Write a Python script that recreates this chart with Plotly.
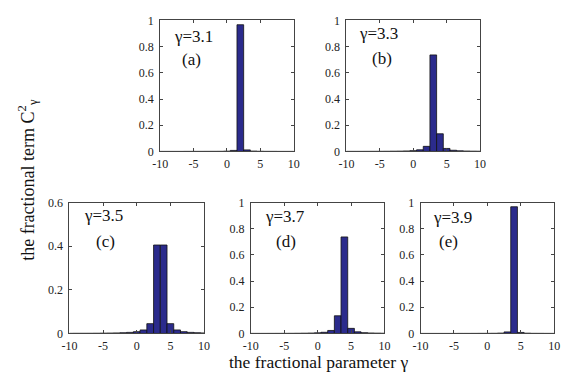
import plotly.graph_objects as go

# integer positions of the terms
n_vals = list(range(-10, 11))

# values (fractional term C^2 for each integer n)
c_g31 = [0.0002, 0.0002, 0.0003, 0.0003, 0.0004, 0.0004, 0.0005, 0.0006, 0.0008, 0.0010, 0.0022,
         0.0080, 0.9675, 0.0120, 0.0027, 0.0012, 0.0006, 0.0004, 0.0003, 0.0002, 0.0002]
c_g33 = [0.0004, 0.0004, 0.0005, 0.0006, 0.0008, 0.0010, 0.0012, 0.0017, 0.0024, 0.0036, 0.0061,
         0.0125, 0.0390, 0.7370, 0.1350, 0.0230, 0.0091, 0.0049, 0.0030, 0.0020, 0.0015]
c_g35 = [0.0006, 0.0007, 0.0008, 0.0009, 0.0011, 0.0014, 0.0018, 0.0024, 0.0034, 0.0050, 0.0083,
         0.0162, 0.0450, 0.4053, 0.4053, 0.0450, 0.0162, 0.0083, 0.0050, 0.0034, 0.0024]
c_g37 = [0.0004, 0.0004, 0.0005, 0.0006, 0.0007, 0.0009, 0.0011, 0.0015, 0.0020, 0.0030, 0.0049,
         0.0091, 0.0230, 0.1350, 0.7370, 0.0390, 0.0125, 0.0061, 0.0036, 0.0024, 0.0017]
c_g39 = [0.0002, 0.0002, 0.0002, 0.0003, 0.0003, 0.0003, 0.0004, 0.0005, 0.0006, 0.0008, 0.0010,
         0.0012, 0.0027, 0.0120, 0.9675, 0.0080, 0.0022, 0.0010, 0.0008, 0.0006, 0.0005]

gamma_labels = ["γ=3.1", "γ=3.3", "γ=3.5", "γ=3.7", "γ=3.9"]
panel_labels = ["(a)", "(b)", "(c)", "(d)", "(e)"]
series = [c_g31, c_g33, c_g35, c_g37, c_g39]
y_max = [1, 1, 0.6, 1, 1]

x_ticks = [-10, -5, 0, 5, 10]
x_ticktext = ["-10", "-5", "0", "5", "10"]
y_ticks_full = [0, 0.2, 0.4, 0.6, 0.8, 1]
y_ticktext_full = ["0", "0.2", "0.4", "0.6", "0.8", "1"]

W, H = 567, 379

# pixel boxes of panels: (x0, x1, y_top, y_bottom)
boxes = [(156, 293, 14, 150), (347, 484, 14, 150),
         (63, 201, 203, 339), (249, 386, 203, 339), (423, 560, 203, 339)]
gamma_pos = [(190, 31), (380, 28), (98, 217), (284, 218), (456, 219)]
panel_pos = [(188, 55), (383, 53), (100, 243), (285, 243), (452, 243)]


def fx(px):
    return px / W


def fy(py):
    return 1 - py / H


FONT = "Liberation Serif"
BAR_COLOR = "#2b2b8c"
AX_COLOR = "#444444"

fig = go.Figure()
layout = dict(width=W, height=H, margin=dict(l=0, r=0, t=0, b=0),
              paper_bgcolor="white", plot_bgcolor="white", showlegend=False,
              bargap=0, font=dict(family=FONT, size=12, color="#222"))
annotations = []

for i, vals in enumerate(series):
    k = "" if i == 0 else str(i + 1)
    fig.add_trace(go.Bar(x=n_vals, y=vals, width=1.0,
                         marker=dict(color=BAR_COLOR, line=dict(color="#111", width=0.8)),
                         xaxis="x" + k, yaxis="y" + k, hoverinfo="skip"))
    x0, x1, yt, yb = boxes[i]
    ym = y_max[i]
    yt_vals = [v for v in y_ticks_full if v <= ym + 1e-9]
    yt_text = y_ticktext_full[:len(yt_vals)]
    layout["xaxis" + k] = dict(domain=[fx(x0), fx(x1)], range=[-10, 10], anchor="y" + k,
                               tickvals=x_ticks, ticktext=x_ticktext, ticks="inside", ticklen=3,
                               tickcolor=AX_COLOR, showline=True, linecolor=AX_COLOR, linewidth=1,
                               mirror="allticks", showgrid=False, zeroline=False,
                               ticklabelstandoff=1,
                               tickfont=dict(family=FONT, size=12, color="#222"))
    layout["yaxis" + k] = dict(domain=[fy(yb), fy(yt)], range=[0, ym], anchor="x" + k,
                               tickvals=yt_vals, ticktext=yt_text, ticks="inside", ticklen=3,
                               tickcolor=AX_COLOR, showline=True, linecolor=AX_COLOR, linewidth=1,
                               mirror="allticks", showgrid=False, zeroline=False,
                               ticklabelstandoff=3,
                               tickfont=dict(family=FONT, size=12, color="#222"))
    gx, gy = gamma_pos[i]
    px, py = panel_pos[i]
    annotations.append(dict(text=gamma_labels[i], x=fx(gx), y=fy(gy), xref="paper", yref="paper",
                            showarrow=False, xanchor="center", yanchor="middle",
                            font=dict(family=FONT, size=17, color="#111")))
    annotations.append(dict(text=panel_labels[i], x=fx(px), y=fy(py), xref="paper", yref="paper",
                            showarrow=False, xanchor="center", yanchor="middle",
                            font=dict(family=FONT, size=17, color="#111")))

annotations.append(dict(text="the fractional parameter γ", x=fx(318), y=fy(369),
                        xref="paper", yref="paper", showarrow=False,
                        xanchor="center", yanchor="middle",
                        font=dict(family=FONT, size=17.5, color="#111")))
annotations.append(dict(text="the fractional term C<sup>2</sup><sub>γ</sub>", x=fx(20), y=fy(180),
                        xref="paper", yref="paper", showarrow=False, textangle=-90,
                        xanchor="center", yanchor="middle",
                        font=dict(family=FONT, size=18, color="#111")))
layout["annotations"] = annotations
fig.update_layout(**layout)
fig.write_html("out.html", config={"displayModeBar": False, "staticPlot": True},
               post_script="document.body.style.margin='0';document.body.style.overflow='hidden';")
